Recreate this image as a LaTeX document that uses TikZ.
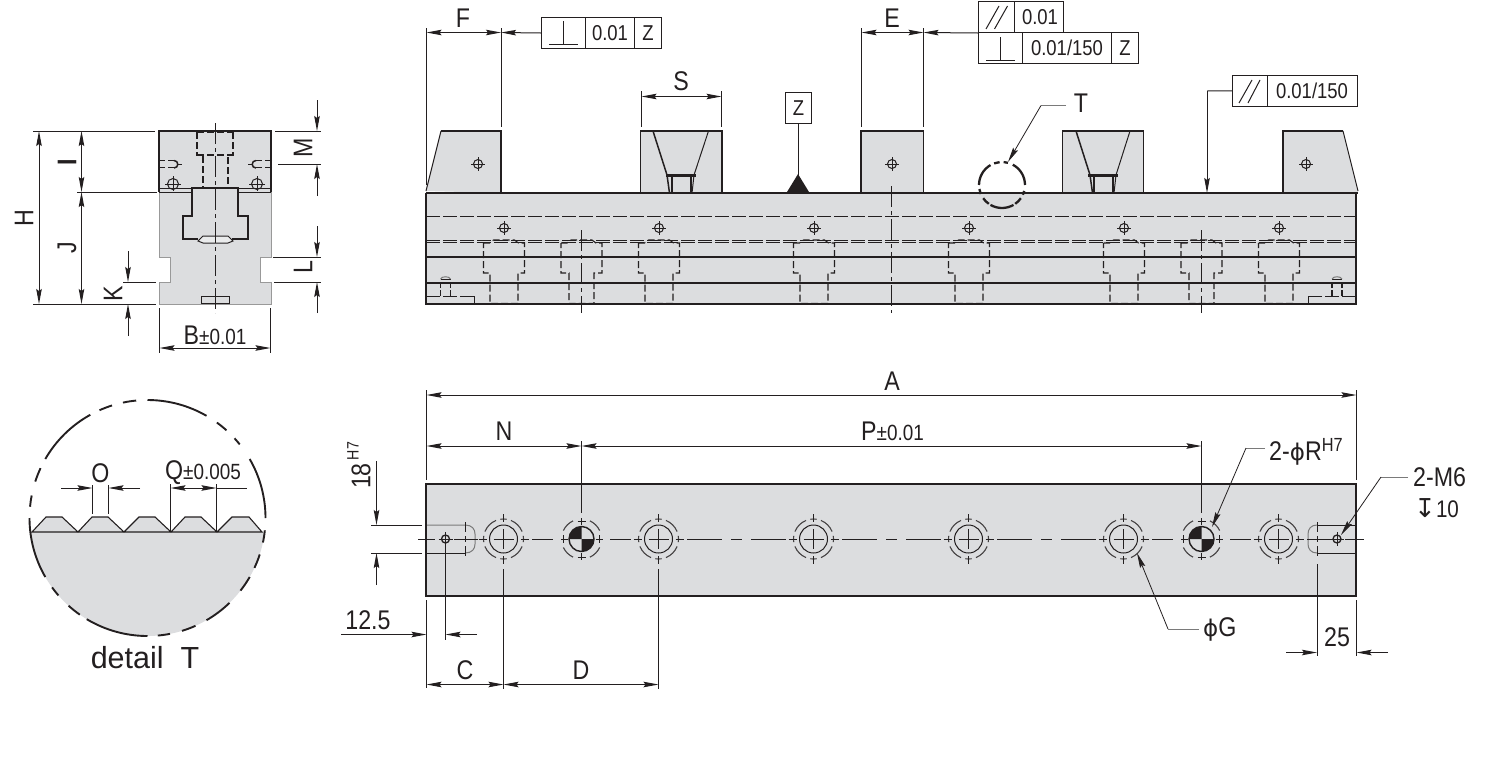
\documentclass[tikz,border=0pt]{standalone}
\usepackage{fontspec}
\setmainfont[FakeStretch=0.86]{Liberation Sans}
\newfontfamily\plainf{Liberation Sans}
\newfontfamily\symf{DejaVu Sans}
\usetikzlibrary{arrows.meta}
\definecolor{ink}{HTML}{231F20}
\definecolor{steel}{HTML}{DCDDDF}
\definecolor{lead}{HTML}{7A7A7A}
\newcommand{\xhair}[3]{\draw[thin line] (#1,#2) circle[radius=#3pt]; \draw[thin line] ({#1-#3-2.5},#2) -- ({#1+#3+2.5},#2) ({#1},{#2-#3-2.5}) -- ({#1},{#2+#3+2.5});}
\newcommand{\cbore}[3]{% centre x, half width, half neck
  \draw[hid] ({#1-#2},243) -- ({#1-#2+6},243) -- ({#1-#2+10},240) -- ({#1+#2-10},240) -- ({#1+#2-6},243) -- ({#1+#2},243) -- ({#1+#2},273) -- ({#1+#3},273) -- ({#1+#3},303.5) -- ({#1-#3},303.5) -- ({#1-#3},273) -- ({#1-#2},273) -- cycle;}
\newcommand{\ring}[2]{% dashed outer ring at x=#1, radius #2
  \foreach \t in {0,90,180,270} {
    \draw[ring line] (#1,539) ++({\t-9}:#2pt) arc[start angle={\t-9},end angle={\t+9},radius=#2pt];
    \draw[ring line] (#1,539) ++({\t+22}:#2pt) arc[start angle={\t+22},end angle={\t+68},radius=#2pt];
  }}
\newcommand{\bhole}[1]{% counterbored hole in the plan view
  \draw[thin line] (#1,539) circle[radius=14pt];
  \ring{#1}{20}
  \draw[thin line] ({#1-25},539) -- ({#1-17},539) ({#1+17},539) -- ({#1+25},539) (#1,514) -- (#1,522) (#1,556) -- (#1,564);
  \draw[thin line] ({#1-10},539) -- ({#1+10},539) (#1,529) -- (#1,549);}
\newcommand{\pinhole}[1]{% locating pin hole
  \fill[ink] (#1,539) -- ++(90:12.5pt) arc[start angle=90,end angle=180,radius=12.5pt] -- cycle;
  \fill[ink] (#1,539) -- ++(270:12.5pt) arc[start angle=270,end angle=360,radius=12.5pt] -- cycle;
  \draw[ink,line width=1.4pt] (#1,539) circle[radius=12.5pt];
  \foreach \t in {0,90,180,270} {
    \draw[ring line] (#1,539) ++({\t+25}:20pt) arc[start angle={\t+25},end angle={\t+65},radius=20pt];
  }
  \draw[thin line] ({#1-21},539) -- ({#1-14},539) ({#1+14},539) -- ({#1+21},539) (#1,518) -- (#1,525) (#1,553) -- (#1,560);
  \draw[thin line] ({#1-18},535) -- ({#1-18},543) ({#1+18},535) -- ({#1+18},543) ({#1-4},521) -- ({#1+4},521) ({#1-4},557) -- ({#1+4},557);}
\newcommand{\darc}[2]{\draw[ink,line width=1.9pt] (147.5,518) ++(#1:118pt) arc[start angle=#1,end angle=#2,radius=118pt];}
\newcommand{\tarc}[2]{\draw[ink,line width=2.3pt] (1002,185) ++(#1:23pt) arc[start angle=#1,end angle=#2,radius=23pt];}
\tikzset{
  thin line/.style={ink,line width=1pt},
  ring line/.style={ink!85,line width=1.1pt},
  thick line/.style={ink,line width=1.9pt},
  hid/.style={ink,line width=1.1pt,dash pattern=on 7pt off 3pt},
  centre/.style={ink,line width=1pt,dash pattern=on 21pt off 4pt on 4pt off 4pt},
  dimen/.style={ink,line width=1pt},
  tipped/.style={dimen,-{Stealth[length=15pt,width=5.5pt,inset=2pt]}},
  both/.style={dimen,{Stealth[length=15pt,width=5.5pt,inset=2pt]}-{Stealth[length=15pt,width=5.5pt,inset=2pt]}},
  leadline/.style={lead,line width=1pt},
  leadtip/.style={ink,line width=.8pt,-{Stealth[length=15pt,width=5.5pt,inset=2pt]}},
  lbl/.style={inner sep=0pt,text=ink,font=\fontsize{27}{27}\selectfont},
  small/.style={inner sep=0pt,text=ink,font=\fontsize{21.5}{21.5}\selectfont},
  frame/.style={draw=ink,line width=1pt,fill=white},
}
\begin{document}
\begin{tikzpicture}[x=1pt,y=-1pt]
\useasboundingbox (0,0) rectangle (1501,761);
% ================= END VIEW =================
\fill[steel] (159,131) -- (271,131) -- (271,257) -- (260,257) -- (260,282) -- (271,282) -- (271,304) -- (159,304) -- (159,282) -- (170,282) -- (170,257) -- (159,257) -- cycle;
\draw[draw=gray!80,line width=1pt] (159,192) -- (159,257) -- (170,257) -- (170,282) -- (159,282) -- (159,304) -- (271,304) -- (271,282) -- (260,282) -- (260,257) -- (271,257) -- (271,192);
\draw[thick line] (159,192) -- (159,131) -- (271,131) -- (271,192);
\draw[thick line] (159,188.5) -- (192,188.5) (238,188.5) -- (271,188.5);
\draw[thin line] (159,192.5) -- (192,192.5) (238,192.5) -- (271,192.5);
\fill[steel] (183,216) -- (192,216) -- (192,188) -- (238,188) -- (238,216) -- (248,216) -- (248,239) -- (183,239) -- cycle;
\draw[thick line] (198,239) -- (183,239) -- (183,216) -- (192,216) -- (192,188) -- (238,188) -- (238,216) -- (248,216) -- (248,239) -- (232,239);
\draw[thin line,fill=steel!60!white] (198,241) -- (203,236) -- (228,236) -- (233,241) -- (228,243) -- (203,243) -- cycle;
\draw[thin line] (201,304) -- (201,296) -- (229,296) -- (229,304);
\draw[thin line] (201,303.5) -- (229,303.5);
\draw[hid] (197,132) -- (197,155) -- (203,155) -- (203,188) (233,132) -- (233,155) -- (228,155) -- (228,188) (197,155) -- (233,155);
\draw[ink,line width=1.6pt,dash pattern=on 7pt off 3pt] (197,132) -- (233,132);
\draw[centre] (215,123) -- (215,313);
\foreach \s in {1,-1} {
  \draw[ink,line width=1.3pt,dash pattern=on 7pt off 3pt] ({215-\s*57},160.5) -- ({215-\s*41},160.5) ({215-\s*57},167.5) -- ({215-\s*41},167.5);
  \draw[ink,line width=1.5pt] ({215-\s*41},160.5) .. controls ({215-\s*36},160.5) and ({215-\s*36},168) .. ({215-\s*41},168);
  \draw[thin line] ({215-\s*37},164) -- ({215-\s*33},164);
  \draw[thin line] ({215-\s*42},184) circle[radius=5.5pt];
  \draw[thin line] ({215-\s*50},184) -- ({215-\s*34},184) ({215-\s*42},176) -- ({215-\s*42},191);
}
% dimension lines of the end view
\draw[dimen] (33,131) -- (155,131) (33,304) -- (156,304) (77,192) -- (157,192);
\draw[both] (39,131) -- (39,304);
\draw[both] (81.5,131) -- (81.5,192);
\draw[both] (81.5,192) -- (81.5,304);
\draw[tipped] (128,251) -- (128,282);
\draw[tipped] (128,336) -- (128,304);
\draw[dimen] (123,282) -- (156,282);
\draw[tipped] (317,100) -- (317,131);
\draw[tipped] (317,196) -- (317,164);
\draw[dimen] (275,131) -- (321,131) (278,164) -- (321,164);
\draw[tipped] (317,226) -- (317,257);
\draw[tipped] (317,313) -- (317,282);
\draw[dimen] (273,257) -- (321,257) (274,282) -- (321,282);
\draw[dimen] (159.5,308) -- (159.5,353) (270.5,308) -- (270.5,353);
\draw[both] (159.5,348) -- (270.5,348);
\node[lbl,rotate=90] (lH) at (24,218) {H};
\node[lbl,rotate=90] (lI) at (67,162) {\bfseries I};
\node[lbl,rotate=90] (lJ) at (67,248) {J};
\node[lbl,rotate=90] (lK) at (113,294) {K};
\node[lbl,rotate=90] (lM) at (303,148) {M};
\node[lbl,rotate=90] (lL) at (303,267) {L};
\node[lbl] (lB) at (215,335.5) {B\fontsize{22}{22}\selectfont±0.01};
% ================= FRONT VIEW =================
\fill[steel] (426,193) rectangle (1356,304);
\fill[steel] (426,191) -- (441,131) -- (501,131) -- (501,193) -- cycle;
\draw[ink,line width=1pt] (426,191) -- (441,131);
\draw[thick line] (441,131) -- (501,131) -- (501,193);
\fill[steel] (640.5,131) rectangle (722,193);
\draw[thick line] (640.5,193) -- (640.5,131) -- (722,131) -- (722,193);
\fill[steel] (861,131) rectangle (923.5,193);
\draw[thick line] (861,193) -- (861,131) -- (923.5,131) -- (923.5,193);
\fill[steel] (1062.5,131) rectangle (1143.5,193);
\draw[thick line] (1062.5,193) -- (1062.5,131) -- (1143.5,131) -- (1143.5,193);
\fill[steel] (1283,193) -- (1283,131) -- (1343,131) -- (1358,191) -- (1358,193) -- cycle;
\draw[thick line] (1283,193) -- (1283,131) -- (1343,131);
\draw[ink,line width=1pt] (1343,131) -- (1358,191);
% insert of the V jaws
\draw[ink,line width=1.5pt] (653,131) -- (667,175) -- (669.5,193);
\draw[ink,line width=1pt] (708.5,131) -- (694,175) -- (692,193);
\draw[ink,line width=2.2pt] (666,175.5) -- (696,175.5);
\draw[ink,line width=1.2pt] (672,175.5) -- (672,193) (691,175.5) -- (691,193);
\draw[ink,line width=1.5pt] (1076,131) -- (1090,175) -- (1092.5,193);
\draw[ink,line width=1pt] (1130,131) -- (1116,175) -- (1114,193);
\draw[ink,line width=2.2pt] (1088,175.5) -- (1118,175.5);
\draw[ink,line width=1.2pt] (1094,175.5) -- (1094,193) (1113,175.5) -- (1113,193);
% internal lines
\draw[ink,line width=1pt,dash pattern=on 14pt off 3pt] (426,216.5) -- (1356,216.5);
\draw[ink,line width=1pt,dash pattern=on 14pt off 3pt] (426,240) -- (1356,240) (426,242.5) -- (1356,242.5);
\draw[ink,line width=1.6pt] (426,257) -- (1356,257) (426,283) -- (1356,283);
\foreach \x in {504,659,814,969,1124,1279} {\cbore{\x}{20.5}{14}}
\foreach \x in {581.5,1201.5} {\cbore{\x}{20.5}{12.5}}
\foreach \x in {504,659,814,969,1124,1279} {\xhair{\x}{228}{4.5}}
\foreach \x in {478,892,1306} {\xhair{\x}{164}{4.5}}
\draw[ink,line width=1pt,dash pattern=on 14pt off 3pt] (426,296) -- (474,296);
\draw[thin line] (474,296) -- (474,304);
\draw[ink,line width=1pt,dash pattern=on 14pt off 3pt] (1356,296) -- (1308,296);
\draw[thin line] (1308,296) -- (1308,304);
\foreach \x in {445.5,1337} {
  \draw[ink,line width=1.1pt,dash pattern=on 6pt off 2pt] ({\x-5},296) -- ({\x-5},282);
  \draw[ink,line width=1.1pt,dash pattern=on 6pt off 2pt] ({\x+5},296) -- ({\x+5},282);
  \draw[ink,line width=1.7pt] ({\x-5},279.5) -- ({\x+5},279.5);
  \draw[lead,line width=1pt] ({\x-5},279) .. controls ({\x-4},276) and ({\x+4},276) .. ({\x+5},279);
}
\draw[thick line] (426,193) -- (426,304) -- (1356,304) -- (1356,193);
\draw[thick line] (426,193) -- (1358,193);
\draw[centre] (581.5,230) -- (581.5,313);
\draw[centre] (1201.5,230) -- (1201.5,313);
\draw[centre] (891,186) -- (891,313);
% datum triangle and box
\fill[ink] (798,174) -- (809,192) -- (787,192) -- cycle;
\node[frame,minimum width=26pt,minimum height=31pt,inner sep=0pt] (zbox) at (798.5,108) {};
\node[small] (zlabel) at (zbox.center) {Z};
\coordinate (ztri) at (798.5,176);
\draw[thin line] (zbox.south) -- (ztri);
% F dim
\draw[dimen] (426.5,28) -- (426.5,185) (501,28) -- (501,127);
\draw[both] (426.5,32.5) -- (501,32.5);
\node[lbl] (lF) at (463,18) {F};
% perpendicular frame
\node[frame,minimum width=120pt,minimum height=31pt,inner sep=0pt] (fr1) at (601.5,33) {};
\draw[thin line] (585.5,17.5) -- (585.5,48.5) (634.5,17.5) -- (634.5,48.5);
\draw[thin line] (549,44) -- (578,44) (563.5,21) -- (563.5,44);
\node[small] (t1a) at (610,33) {0.01};
\node[small] (t1b) at (648,33) {Z};
\coordinate (f1tip) at (501,32.5);
\draw[tipped] (fr1.west) -- (f1tip);
% S dim
\draw[dimen] (641.5,91) -- (641.5,127) (721.5,91) -- (721.5,127);
\draw[both] (641.5,96.5) -- (721.5,96.5);
\node[lbl] (lS) at (681,81) {S};
% E dim
\draw[dimen] (861.5,28) -- (861.5,127) (923.5,28) -- (923.5,127);
\draw[both] (861.5,32.5) -- (923.5,32.5);
\node[lbl] (lE) at (892,18) {E};
% E frames
\node[frame,minimum width=85pt,minimum height=31pt,inner sep=0pt] (fr2) at (1021,17) {};
\node[frame,minimum width=160pt,minimum height=30.5pt,inner sep=0pt] (fr3) at (1058.5,47.8) {};
\draw[thin line] (1014.5,1.5) -- (1014.5,32.5) (1022.5,32.5) -- (1022.5,63) (1111.5,32.5) -- (1111.5,63);
\draw[thin line] (986,29) -- (999,6) (994.5,29) -- (1007.5,6);
\draw[thin line] (986,60.5) -- (1015,60.5) (1000.5,37) -- (1000.5,60.5);
\node[small] (t2a) at (1040,17) {0.01};
\node[small] (t3a) at (1067,48) {0.01/150};
\node[small] (t3b) at (1125,48) {Z};
\coordinate (f2tip) at (923.5,32.5);
\draw[tipped] (fr2.south west) -- (f2tip);
% T leader
\node[lbl] (lT) at (1081,103) {T};
\foreach \a/\b in {180/120,110/96,86/75,62/0,-15/-25,-35/-55,-60/-120,-125/-145,-157/-170} {\tarc{\a}{\b}}
\coordinate (t1) at (1066,105.5);
\coordinate (t2) at (1041,105.5);
\coordinate (t3) at (1008,162);
\draw[leadline] (t1) -- (t2);
\draw[leadtip] (t2) -- (t3);
% flatness frame
\node[frame,minimum width=125pt,minimum height=30.5pt,inner sep=0pt] (fr4) at (1295,90.8) {};
\draw[thin line] (1267.5,75.5) -- (1267.5,106);
\draw[thin line] (1239,103) -- (1252,80) (1248,103) -- (1260,80);
\node[small] (t4a) at (1312,91) {0.01/150};
\coordinate (f4a) at (1207,91);
\coordinate (f4b) at (1207,193);
\draw[thin line] (fr4.west) -- (f4a);
\draw[tipped] (f4a) -- (f4b);
% ================= PLAN VIEW =================
\fill[steel] (426,484) rectangle (1356,596);
\draw[lead,line width=1pt] (426,525) -- (465,525) .. controls (472,525) and (475,529) .. (475,534) -- (475,544) .. controls (475,549) and (472,553) .. (465,553);
\draw[thin line] (465,553) -- (426,553);
\draw[lead,line width=1pt] (1317,553) .. controls (1311,553) and (1308,549) .. (1308,544) -- (1308,534) .. controls (1308,529) and (1311,525) .. (1317,525);
\draw[thin line] (1356,525) -- (1317,525) (1317,553) -- (1356,553);
\draw[thin line] (465,522) -- (465,532) (465,536) -- (465,542) (465,546) -- (465,556);
\draw[thick line] (426,484) rectangle (1356,596);
\foreach \x in {503.5,658.5,813.5,968.5,1123.5,1278.5} {\bhole{\x}}
\foreach \x in {581.5,1201.5} {\pinhole{\x}}
\foreach \x in {445.5,1337} {
  \draw[ink,line width=1.3pt] (\x,539) circle[radius=4pt];
  \draw[thin line] ({\x-7},539) -- ({\x+7},539) (\x,532) -- (\x,546);}
% centre line
\draw[thin line] (418,539) -- (435,539) (454,539) -- (478,539) (532,539) -- (553,539) (610,539) -- (631,539);
\foreach \o in {0,155,310} {
  \draw[thin line] ({687+\o},539) -- ({722+\o},539) ({731+\o},539) -- ({742+\o},539) ({751+\o},539) -- ({786+\o},539);
}
\draw[thin line] (1152,539) -- (1173,539) (1230,539) -- (1251,539) (1307,539) -- (1330,539) (1345,539) -- (1364,539);
% dims of plan view
\draw[dimen] (426.5,390) -- (426.5,480) (1356.5,390) -- (1356.5,480);
\draw[both] (426.5,395) -- (1356.5,395);
\node[lbl] (lA) at (892,381) {A};
\draw[dimen] (581.5,441) -- (581.5,513) (1201.5,441) -- (1201.5,513);
\draw[both] (426.5,446) -- (581.5,446);
\draw[both] (581.5,446) -- (1201.5,446);
\node[lbl] (lN) at (504,431) {N};
\node[lbl] (lP) at (892.5,431.5) {P\fontsize{22}{22}\selectfont±0.01};
\draw[dimen] (371,525) -- (422,525) (371,553) -- (422,553);
\draw[tipped] (376.5,461) -- (376.5,525);
\draw[tipped] (376.5,585) -- (376.5,553);
\node[lbl,rotate=90] (l18) at (361,476) {18};
\node[inner sep=0pt,text=ink,rotate=90,font=\fontsize{16.5}{16.5}\selectfont] (lH7) at (353,451) {H7};
\node[lbl] (l125) at (368,620) {12.5};
\draw[dimen] (445.5,546) -- (445.5,640) (426.5,600) -- (426.5,688);
\draw[tipped] (341,634.5) -- (426.5,634.5);
\draw[tipped] (477,634.5) -- (445.5,634.5);
\draw[dimen] (503.5,569) -- (503.5,689) (658.5,569) -- (658.5,689);
\draw[both] (426.5,684.5) -- (503.5,684.5);
\draw[both] (503.5,684.5) -- (658.5,684.5);
\node[lbl] (lC) at (465,670) {C};
\node[lbl] (lD) at (581,670) {D};
% leaders
\coordinate (r1) at (1265,448);
\coordinate (r2) at (1246,448);
\coordinate (r3) at (1212,527);
\draw[leadline] (r1) -- (r2);
\draw[leadtip] (r2) -- (r3);
\node[lbl,anchor=west] (lR) at (1269,452) {2-{\symf\fontsize{23}{23}\selectfont ϕ}R\raisebox{9pt}{\fontsize{19}{19}\selectfont H7}};
\coordinate (g1) at (1199,629);
\coordinate (g2) at (1168,629);
\coordinate (g3) at (1137,553);
\draw[leadline] (g1) -- (g2);
\draw[leadtip] (g2) -- (g3);
\node[lbl,anchor=west] (lG) at (1203,629) {{\symf\fontsize{23}{23}\selectfont ϕ}G};
\coordinate (m1) at (1408,477);
\coordinate (m2) at (1381,477);
\coordinate (m3) at (1341,535);
\draw[leadline] (m1) -- (m2);
\draw[leadtip] (m2) -- (m3);
\node[lbl,anchor=west] (lM6) at (1413,477) {2-M6};
\node[small,anchor=west,font=\fontsize{24}{24}\selectfont] (lD10) at (1414,508) {{\symf\fontsize{26}{26}\selectfont ↧}10};
% 25 dim
\draw[thin line] (1317,522) -- (1317,532) (1317,536) -- (1317,542) (1317,546) -- (1317,556) (1317,564) -- (1317,656);
\draw[dimen] (1356.5,600) -- (1356.5,656);
\draw[tipped] (1286,652.5) -- (1317,652.5);
\draw[tipped] (1388,652.5) -- (1356.5,652.5);
\node[lbl] (l25) at (1337,637) {25};
% ================= DETAIL T =================
\fill[steel] (147.5,518) ++(-6.8:118pt) arc[start angle=-6.8,end angle=-173.2,radius=118pt] -- cycle;
\fill[steel] (32,532) -- (46,517) -- (62,517) -- (78,532) -- (92,517) -- (108,517) -- (124,532) -- (139,517) -- (155,517) -- (171,532) -- (185,517) -- (201,517) -- (217,532) -- (232,517) -- (249,517) -- (262,532) -- cycle;
\draw[ink,line width=1.1pt] (32,532) -- (46,517) -- (62,517) -- (78,532) -- (92,517) -- (108,517) -- (124,532) -- (139,517) -- (155,517) -- (171,532) -- (185,517) -- (201,517) -- (217,532) -- (232,517) -- (249,517) -- (262,532) -- cycle;
\foreach \a/\b in {90/60,54/48,42.5/38.6,30/0,-6/-12,-18/-25,-30/-38,-46/-60,-66/-73,-79/-85,-90/-121,-125/-132,-139/-144,-150/-180,-185.5/-191,-198/-205,-210/-241,-246/-252.5,-258/-264.5} {\darc{\a}{\b}}
\node[lbl] (lO) at (100.5,473) {O};
\node[lbl] (lQ) at (203,473) {Q\fontsize{22}{22}\selectfont±0.005};
\draw[dimen] (92.5,485) -- (92.5,514) (108.5,485) -- (108.5,514);
\draw[tipped] (61,488) -- (92.5,488);
\draw[tipped] (140,488) -- (108.5,488);
\draw[dimen] (170.5,484) -- (170.5,532) (216.5,484) -- (216.5,532);
\draw[both] (170.5,488) -- (216.5,488);
\draw[dimen] (216.5,488) -- (247,488);
\node[inner sep=0pt,text=ink,font=\plainf\fontsize{30.5}{30.5}\selectfont] (ldet) at (145,658) {detail\ \ T};
\end{tikzpicture}
\end{document}
